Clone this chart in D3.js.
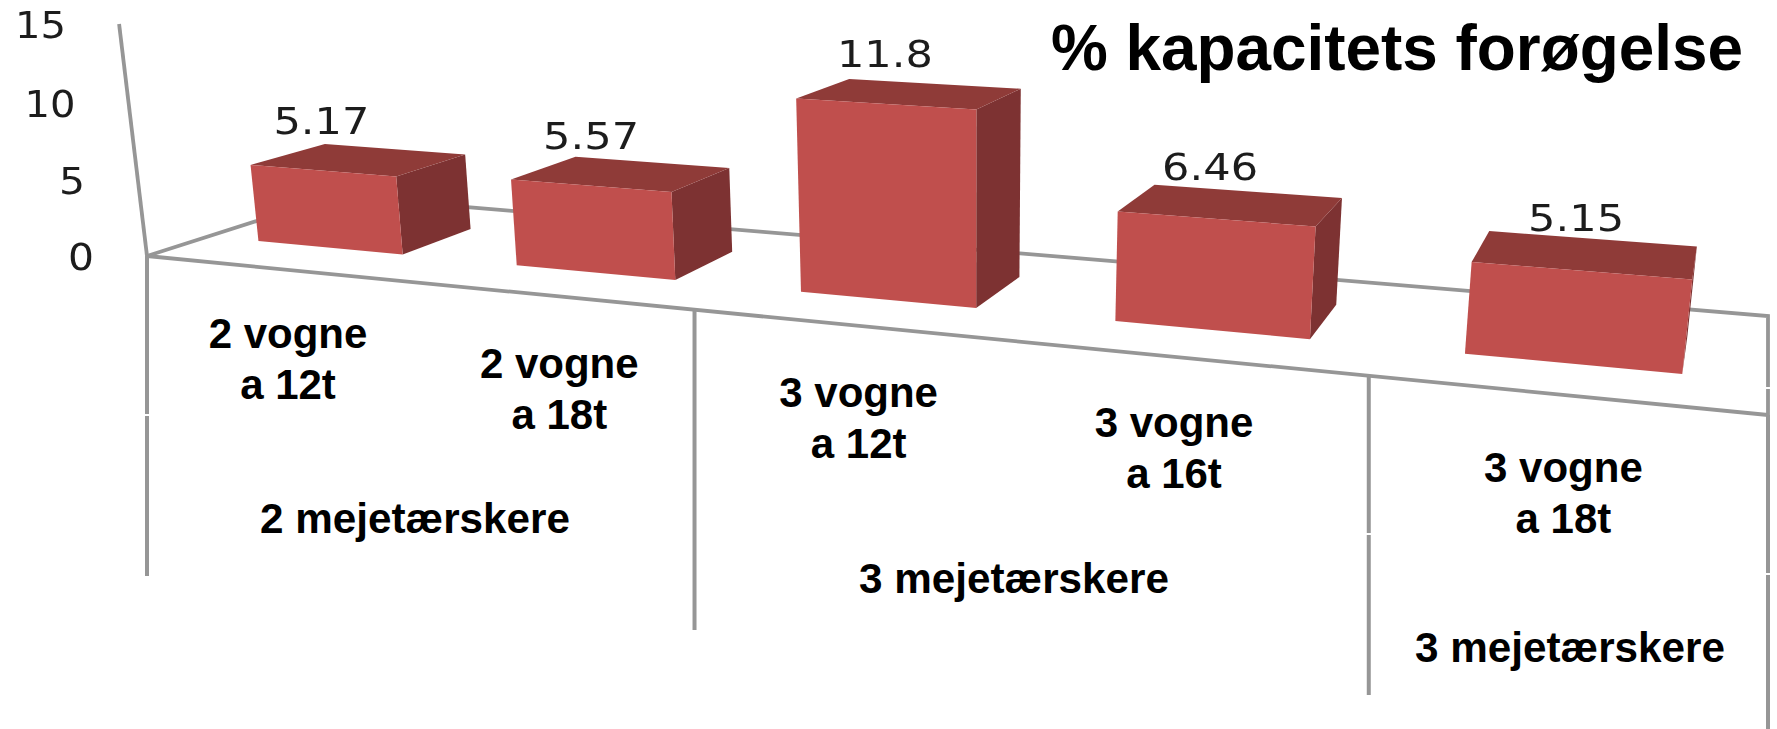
<!DOCTYPE html>
<html>
<head>
<meta charset="utf-8">
<script src="https://cdnjs.cloudflare.com/ajax/libs/d3/7.8.5/d3.min.js"></script>
<style>
html,body{margin:0;padding:0;background:#fff;overflow:hidden}
svg{display:block}
</style>
</head>
<body>
<svg id="chart" width="1777" height="729"></svg>
<script>
// ---- data ----
const categories = ["c1", "c2", "c3", "c4", "c5"];
const values = [5.17, 5.57, 11.8, 6.46, 5.15];
const valueLabels = ["5.17", "5.57", "11.8", "6.46", "5.15"];
const wagonLines = [["2 vogne", "a 12t"], ["2 vogne", "a 18t"], ["3 vogne", "a 12t"], ["3 vogne", "a 16t"], ["3 vogne", "a 18t"]];
const groupLabels = ["2 mejetærskere", "3 mejetærskere", "3 mejetærskere"];
const groupStarts = [0, 2, 4];
const yTicks = [0, 5, 10, 15];
const titleText = "% kapacitets forøgelse";

// ---- layout ----
const W = 1777, H = 729;
const colors = {front: "#c0504d", top: "#8f3a38", side: "#7d3130", line: "#969696", text: "#1e1e1e", bold: "#000"};
// floor quadrilateral of the 3-D chart: front-left, front-right, back-right, back-left
const floor = [[147, 256], [1768, 415], [1768, 316], [335, 196]];
const vanish = [970, 7100];          // vertical vanishing point
const catLabelOffset = [[14, 80], [12, 83], [9, 82], [-12, 79], [1, 87]];   // from the front edge of each category
const valueLabelNudge = [[0, 0], [2, 0], [1, 0], [-4, -2], [-3, -3]];
const catLineGap = 51;
const groupLabelPos = [[415, 533], [1014, 593], [1570, 662]];
const dropBottoms = [576, 630, 695, 729];
const dropGaps = [[147, 415], [1368, 534], [1768, 574], [1768, 388]];

// perspective projection built from scales
const sBand = d3.scaleBand().domain(categories).range([-0.002, 1]).paddingInner(0.43).paddingOuter(0.215);
const wDepth = d3.scaleLinear().domain([0, 1]).range([0.3, 0.7]);
const vZ = d3.scaleLinear().domain([0, 15]).range([0, -0.0328]);
const [p0, p1, p2, p3] = floor;
const dx1 = p1[0] - p2[0], dx2 = p3[0] - p2[0], sx = p0[0] - p1[0] + p2[0] - p3[0];
const dy1 = p1[1] - p2[1], dy2 = p3[1] - p2[1], sy = p0[1] - p1[1] + p2[1] - p3[1];
const den = dx1 * dy2 - dx2 * dy1;
const g = (sx * dy2 - dx2 * sy) / den, h = (dx1 * sy - sx * dy1) / den;
const a = p1[0] - p0[0] + g * p1[0], b = p3[0] - p0[0] + h * p3[0];
const d = p1[1] - p0[1] + g * p1[1], e = p3[1] - p0[1] + h * p3[1];
function project(s, w, v) {
  const z = vZ(v);
  const D = 1 + g * s + h * w + z;
  return [(a * s + b * w + p0[0] + z * vanish[0]) / D,
          (d * s + e * w + p0[1] + z * vanish[1]) / D];
}

const svg = d3.select("#chart");
svg.append("defs").append("filter").attr("id", "soft")
  .attr("x", "-5%").attr("y", "-5%").attr("width", "110%").attr("height", "110%")
  .append("feGaussianBlur").attr("stdDeviation", 0.55);
svg.append("rect").attr("width", W).attr("height", H).attr("fill", "#fff");
const path = d3.line();
const strokeLine = (sel, pts, width) => sel.append("path").attr("d", path(pts))
  .attr("fill", "none").attr("stroke", colors.line).attr("stroke-width", width);

// walls & floor
const grid = svg.append("g").attr("filter", "url(#soft)");
strokeLine(grid, [project(0, 0, 15), project(0, 0, 0)], 3.8);
strokeLine(grid, [project(0, 0, 0), project(0, 1, 0), project(1, 1, 0), project(1, 0, 0)], 3.8);
strokeLine(grid, [project(0, 0, 0), project(1, 0, 0)], 3.8);
const dropPos = groupStarts.map(i => i / categories.length).concat([1]);
dropPos.forEach((s, i) => {
  const top = project(s, 0, 0);
  strokeLine(grid, [top, [top[0], dropBottoms[i]]], 4);
});
grid.selectAll("rect.gap").data(dropGaps).join("rect").attr("class", "gap")
  .attr("x", q => q[0] - 4).attr("y", q => q[1] - 1).attr("width", 8).attr("height", 2).attr("fill", "#fff");

// bars
const bars = svg.append("g").attr("filter", "url(#soft)");
categories.forEach((c, i) => {
  const s0 = sBand(c), s1 = s0 + sBand.bandwidth(), w0 = wDepth(0), w1 = wDepth(1), v = values[i];
  const poly = (pts, fill) => bars.append("path").attr("d", path(pts) + "Z").attr("fill", fill);
  poly([project(s1, w0, 0), project(s1, w1, 0), project(s1, w1, v), project(s1, w0, v)], colors.side);
  poly([project(s0, w0, v), project(s1, w0, v), project(s1, w1, v), project(s0, w1, v)], colors.top);
  poly([project(s0, w0, 0), project(s1, w0, 0), project(s1, w0, v), project(s0, w0, v)], colors.front);
});

// y tick labels
const axisLabels = svg.append("g").attr("filter", "url(#soft)")
  .attr("font-family", "'DejaVu Sans'").attr("font-size", 38).attr("fill", colors.text);
axisLabels.selectAll("text").data(yTicks).join("text")
  .attr("x", t => project(0, 0, t)[0] - 53 - (t > 5 ? 51 : 26))
  .attr("y", t => project(0, 0, t)[1] + 14)
  .attr("textLength", t => t > 5 ? 51 : 26).attr("lengthAdjust", "spacingAndGlyphs").text(t => t);

// value labels
const valueG = svg.append("g").attr("filter", "url(#soft)")
  .attr("font-family", "'DejaVu Sans'").attr("font-size", 37).attr("fill", colors.text);
categories.forEach((c, i) => {
  const q = project(sBand(c) + sBand.bandwidth() / 2, wDepth(0), values[i]);
  valueG.append("text").attr("x", q[0] - 49 + valueLabelNudge[i][0]).attr("y", q[1] - 37 + valueLabelNudge[i][1])
    .attr("textLength", 96).attr("lengthAdjust", "spacingAndGlyphs")
    .text(valueLabels[i]);
});

// bold labels
const bold = svg.append("g").attr("font-family", "'Liberation Sans'").attr("font-weight", 700).attr("fill", colors.bold);
categories.forEach((c, i) => {
  const q = project((i + 0.5) / categories.length, 0, 0);
  wagonLines[i].forEach((line, k) => {
    bold.append("text").attr("x", q[0] + catLabelOffset[i][0])
      .attr("y", q[1] + catLabelOffset[i][1] + k * catLineGap)
      .attr("font-size", 42).attr("text-anchor", "middle").text(line);
  });
});
groupLabels.forEach((t, i) => {
  bold.append("text").attr("x", groupLabelPos[i][0] - 155).attr("y", groupLabelPos[i][1])
    .attr("font-size", 42)
    .attr("textLength", 310).attr("lengthAdjust", "spacingAndGlyphs").text(t);
});
bold.append("text").attr("x", 1051).attr("y", 70).attr("font-size", 64)
  .attr("textLength", 692).attr("lengthAdjust", "spacingAndGlyphs").text(titleText);
</script>
</body>
</html>
